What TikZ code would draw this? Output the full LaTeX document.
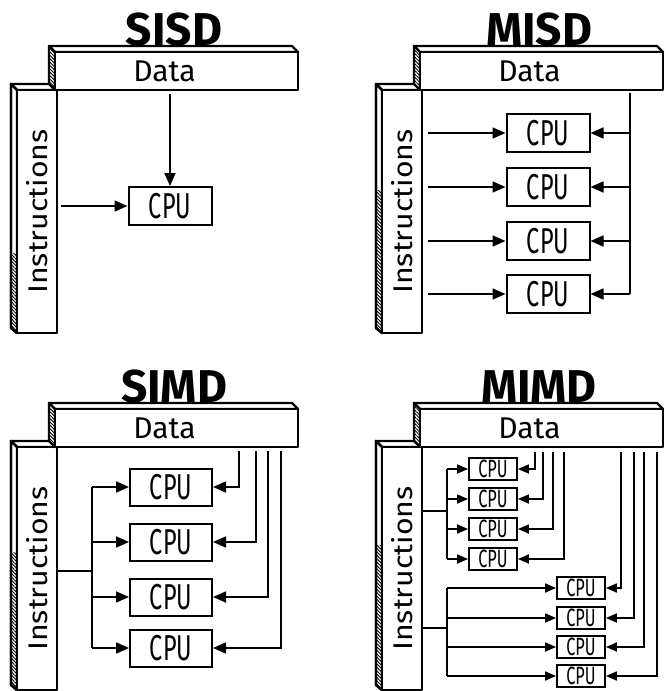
\documentclass[tikz,border=0pt]{standalone}
\usepackage{fontspec}
\setmainfont{Fira Sans}
\newfontfamily\cpufont[FakeStretch=0.65]{Fira Sans}
\newfontfamily\instfont[FakeStretch=1.12]{Fira Sans}
\newfontfamily\titlefont{Fira Sans}
\usetikzlibrary{arrows.meta,patterns.meta}

\tikzset{
 barline/.style={draw=black, line width=2.4pt, line join=round},
 hatch/.style={pattern={Lines[angle=-45,distance=2.4pt,line width=0.9pt]}},
 databar/.style={barline, fill=white, rectangle, minimum width=243pt, minimum height=38pt, inner sep=0pt, font=\fontsize{30}{30}\selectfont},
 instbar/.style={barline, fill=white, rectangle, minimum width=40pt, minimum height=243pt, inner sep=0pt, font=\instfont\fontsize{27}{27}\selectfont},
 cpu/.style={draw, line width=2pt, fill=white, inner sep=0pt, minimum width=83pt, minimum height=38pt, font=\cpufont\fontsize{36}{36}\selectfont},
 scpu/.style={draw, line width=1.8pt, fill=white, inner sep=0pt, minimum width=48pt, minimum height=22pt, font=\cpufont\fontsize{25}{25}\selectfont},
 wire/.style={line width=1.7pt},
 arr/.style={wire, -{Triangle[length=13pt,width=11pt]}},
 sarr/.style={wire, -{Triangle[length=11pt,width=9pt]}},
 ttl/.style={font=\titlefont\bfseries\fontsize{46}{46}\selectfont, anchor=base, inner sep=0pt},
}

\newcommand\panel[5]{%
 \begin{scope}[shift={(#1,#2)}]
  % instruction bar: top face and side face
  \draw[barline, fill=white] (17,90) -- (11,84) -- (51,84) -- (57,90) -- cycle;
  \draw[barline, fill=white] (17,90) -- (11,84) -- (11,328) -- (17,333) -- cycle;
  \fill[hatch] (11,#5) -- (17,#5) -- (17,333) -- (11,328) -- cycle;
  \draw[barline] (17,90) -- (11,84) -- (11,328) -- (17,333);
  \node[instbar] (#4i) at (37,211.5) {\rotatebox{90}{Instructions}};
  % data bar: top face and side face
  \draw[barline, fill=white] (55,52) -- (49,46) -- (292,46) -- (298,52) -- cycle;
  \draw[barline, preaction={fill=white}, hatch] (55,52) -- (49,46) -- (49,84) -- (55,90) -- cycle;
  \node[databar] (#4d) at (176.5,71) {\hspace*{-24pt}Data};
  \node[ttl] (#4t) at (174,45) {#3};
 \end{scope}}

\begin{document}
\begin{tikzpicture}[x=1pt,y=-1pt]
\useasboundingbox (0,0) rectangle (665,691);

\panel{0}{0}{SISD}{a}{253}
\panel{365}{0}{MISD}{b}{190}
\panel{0}{357}{SIMD}{c}{195}
\panel{365}{357}{MIMD}{e}{188}

% ---------- SISD ----------
\node[cpu] (a1) at (170,206) {CPU};
\draw[arr, shorten <=3pt] (ad.south -| a1) -- (a1.north);
\draw[arr, shorten <=3pt] (ai.east |- a1) -- (a1.west);

% ---------- MISD ----------
\node[cpu] (b1) at (548,133) {CPU};
\node[cpu] (b2) at (548,187) {CPU};
\node[cpu] (b3) at (548,241) {CPU};
\node[cpu] (b4) at (548,294) {CPU};
\coordinate (btr) at (630,0);
\foreach \k in {1,...,4}{
  \draw[arr, shorten <=5pt] (bi.east |- b\k) -- (b\k.west);
}
\draw[wire, shorten <=2pt] (bd.south -| btr) -- (btr |- b4);
\foreach \k in {1,...,4}{
  \draw[arr] (btr |- b\k) -- (b\k.east);
}

% ---------- SIMD ----------
\node[cpu, minimum width=82pt, minimum height=37pt] (c1) at (171,487) {CPU};
\node[cpu, minimum width=82pt, minimum height=37pt] (c2) at (171,542) {CPU};
\node[cpu, minimum width=82pt, minimum height=37pt] (c3) at (171,597) {CPU};
\node[cpu, minimum width=82pt, minimum height=37pt] (c4) at (171,648) {CPU};
\coordinate (cbus) at (92,571);
\draw[wire] (ci.east |- cbus) -- (cbus);
\draw[wire] (cbus |- c1) -- (cbus |- c4);
\foreach \k in {1,...,4}{
  \draw[arr] (cbus |- c\k) -- (c\k.west);
}
\coordinate (cd1) at (239,0);
\coordinate (cd2) at (256,0);
\coordinate (cd3) at (268,0);
\coordinate (cd4) at (281,0);
\foreach \k in {1,...,4}{
  \draw[arr, shorten <=3pt] (cd.south -| cd\k) |- (c\k.east);
}

% ---------- MIMD ----------
\node[scpu] (e1) at (493,469) {CPU};
\node[scpu] (e2) at (493,499) {CPU};
\node[scpu] (e3) at (493,529) {CPU};
\node[scpu] (e4) at (493,559) {CPU};
\node[scpu] (e5) at (581,588) {CPU};
\node[scpu] (e6) at (581,618) {CPU};
\node[scpu] (e7) at (581,647) {CPU};
\node[scpu] (e8) at (581,676) {CPU};
\coordinate (eb1) at (447,511);
\coordinate (eb2) at (447,628);
\draw[wire] (ei.east |- eb1) -- (eb1);
\draw[wire] (eb1 |- e1) -- (eb1 |- e4);
\draw[wire] (ei.east |- eb2) -- (eb2);
\draw[wire] (eb2 |- e5) -- (eb2 |- e8);
\foreach \k in {1,...,4}{
  \draw[sarr] (eb1 |- e\k) -- (e\k.west);
}
\foreach \k in {5,...,8}{
  \draw[sarr] (eb2 |- e\k) -- (e\k.west);
}
\coordinate (ed1) at (535,0);
\coordinate (ed2) at (543,0);
\coordinate (ed3) at (553,0);
\coordinate (ed4) at (564,0);
\coordinate (ed5) at (621,0);
\coordinate (ed6) at (634,0);
\coordinate (ed7) at (644,0);
\coordinate (ed8) at (657,0);
\foreach \k in {1,...,8}{
  \draw[sarr, shorten <=4pt] (ed.south -| ed\k) |- (e\k.east);
}
\end{tikzpicture}
\end{document}
